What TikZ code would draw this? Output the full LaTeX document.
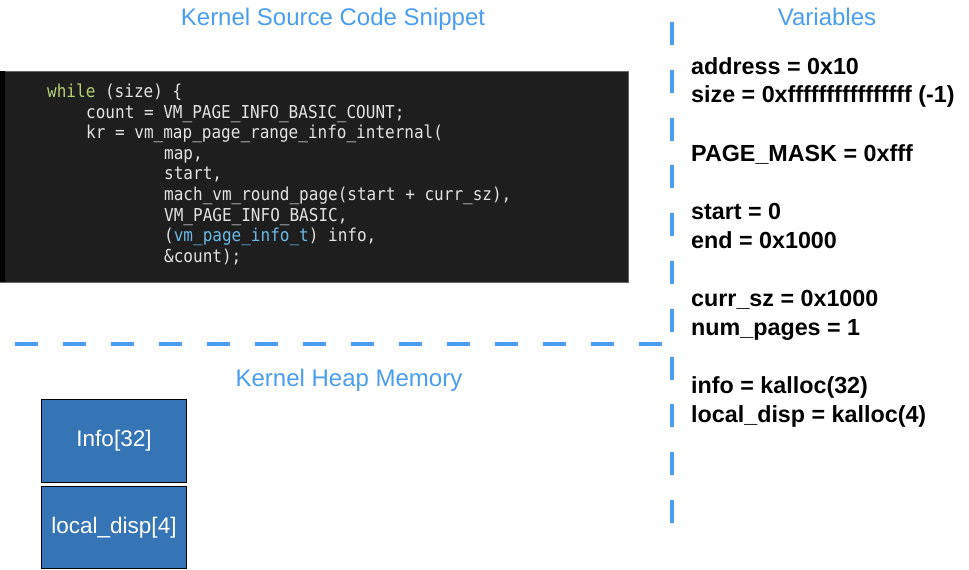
\documentclass[tikz,border=0pt]{standalone}
\usepackage{fontspec}
\setmainfont{Liberation Sans}
\newfontfamily\sansf{Liberation Sans}
\newfontfamily\monof[FakeStretch=0.9]{DejaVu Sans Mono}
\definecolor{ttl}{HTML}{4A9EF0}
\definecolor{codebg}{HTML}{1E1E1E}
\definecolor{codefg}{HTML}{E2E2E2}
\definecolor{kw}{HTML}{B4D273}
\definecolor{ty}{HTML}{6CB8E6}
\definecolor{boxfill}{HTML}{3575B5}
\tikzset{
  title/.style={font=\sansf\fontsize{24}{26}\selectfont, text=ttl, anchor=base, inner sep=0pt},
  codeline/.style={font=\monof\fontsize{17.8}{20}\selectfont, text=codefg, anchor=base west, inner sep=0pt},
  varline/.style={font=\sansf\bfseries\fontsize{23.3}{26}\selectfont, text=black, anchor=base west, inner sep=0pt},
  heapbox/.style={draw=black, line width=1pt, fill=boxfill, text=white, font=\sansf\fontsize{22.5}{24}\selectfont, minimum width=145pt, inner sep=0pt},
  divider/.style={draw=ttl, line width=3.5pt}
}
\begin{document}
\begin{tikzpicture}[x=1pt,y=-1pt]
\useasboundingbox (0,0) rectangle (969,570);
% titles
\node[title] (t1) at (333,25.5) {Kernel Source Code Snippet};
\node[title] (t2) at (827,25.5) {Variables};
\node[title] (t3) at (349,386.5) {Kernel Heap Memory};
% code box
\node[fill=codebg, draw=black!60, line width=0.6pt, minimum width=628pt, minimum height=211pt, inner sep=0pt, anchor=north west] (code) at (0,71) {};
\fill[black] (0,71) rectangle (5,282);
\node[codeline] (c1) at (47,97.5) {\textcolor{kw}{while} (size) \{};
\node[codeline] (c2) at (86,118.1) {count = VM\_PAGE\_INFO\_BASIC\_COUNT;};
\node[codeline] (c3) at (86,138.7) {kr = vm\_map\_page\_range\_info\_internal(};
\node[codeline] (c4) at (164,159.3) {map,};
\node[codeline] (c5) at (164,179.9) {start,};
\node[codeline] (c6) at (164,200.5) {mach\_vm\_round\_page(start + curr\_sz),};
\node[codeline] (c7) at (164,221.1) {VM\_PAGE\_INFO\_BASIC,};
\node[codeline] (c8) at (164,241.7) {(\textcolor{ty}{vm\_page\_info\_t}) info,};
\node[codeline] (c9) at (164,262.3) {\&count);};
% dividers
\coordinate (h1) at (15,344);
\coordinate (h2) at (663,344);
\draw[divider, dash pattern=on 23pt off 25pt] (h1) -- (h2);
\coordinate (v1) at (672,22);
\coordinate (v2) at (672,524);
\draw[divider, dash pattern=on 23pt off 24.8pt] (v1) -- (v2);
% variables
\node[varline] (a1) at (691,74) {address = 0x10};
\node[varline] (a2) at (691,102.5) {size = 0xffffffffffffffff (-1)};
\node[varline] (a3) at (691,161) {PAGE\_MASK = 0xfff};
\node[varline] (a4) at (691,219.5) {start = 0};
\node[varline] (a5) at (691,248) {end = 0x1000};
\node[varline] (a6) at (691,306.5) {curr\_sz = 0x1000};
\node[varline] (a7) at (691,335) {num\_pages = 1};
\node[varline] (a8) at (691,393.5) {info = kalloc(32)};
\node[varline] (a9) at (691,422) {local\_disp = kalloc(4)};
% heap boxes
\node[heapbox, minimum height=83pt, anchor=north west] (info) at (41,399) {Info[32]};
\node[heapbox, minimum height=82pt, anchor=north west] (ldisp) at (41,486) {local\_disp[4]};
\end{tikzpicture}
\end{document}
